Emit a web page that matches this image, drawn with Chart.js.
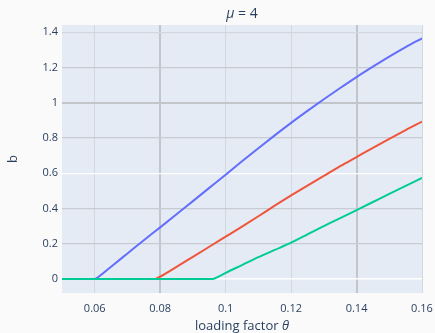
<!DOCTYPE html>
<html>
<head>
<meta charset="utf-8">
<script src="https://cdn.jsdelivr.net/npm/chart.js@4/dist/chart.umd.min.js"></script>
<style>
  html, body { margin: 0; padding: 0; background: #fafafa; }
  #wrap { width: 435px; height: 333px; }
</style>
</head>
<body>
<div id="wrap"><canvas id="c" width="435" height="333"></canvas></div>
<script>
// loading factor θ and the resulting b for three series
const thetaBlue = [0.05, 0.06, 0.0605, 0.065, 0.07, 0.075, 0.08, 0.085, 0.09, 0.095, 0.10, 0.105, 0.11, 0.115, 0.12, 0.125, 0.13, 0.135, 0.14, 0.145, 0.15, 0.155, 0.16];
const bBlue     = [0, 0, 0.004, 0.07, 0.145, 0.22, 0.293, 0.367, 0.442, 0.517, 0.592, 0.668, 0.742, 0.815, 0.886, 0.954, 1.020, 1.084, 1.146, 1.205, 1.262, 1.316, 1.366];

const thetaRed  = [0.05, 0.0785, 0.0789, 0.08, 0.085, 0.09, 0.095, 0.10, 0.105, 0.11, 0.115, 0.12, 0.125, 0.13, 0.135, 0.14, 0.145, 0.15, 0.155, 0.16];
const bRed      = [0, 0, 0.003, 0.013, 0.069, 0.126, 0.183, 0.240, 0.297, 0.356, 0.416, 0.474, 0.53, 0.585, 0.64, 0.692, 0.744, 0.795, 0.845, 0.893];

const thetaGreen = [0.05, 0.0962, 0.0966, 0.098, 0.10, 0.105, 0.11, 0.115, 0.12, 0.125, 0.13, 0.135, 0.14, 0.145, 0.15, 0.155, 0.16];
const bGreen     = [0, 0, 0.003, 0.015, 0.035, 0.079, 0.124, 0.165, 0.206, 0.253, 0.3, 0.345, 0.391, 0.437, 0.483, 0.528, 0.574];

const xTicks = [0.06, 0.08, 0.1, 0.12, 0.14, 0.16];
const xTickLabels = ["0.06", "0.08", "0.1", "0.12", "0.14", "0.16"];
const yTicks = [0, 0.2, 0.4, 0.6, 0.8, 1, 1.2, 1.4];
const yTickLabels = ["0", "0.2", "0.4", "0.6", "0.8", "1", "1.2", "1.4"];

const TEXT = '#2a3f5f';
const FONT = '"Open Sans", "Noto Sans", sans-serif';

function pts(xs, ys) { return xs.map((x, i) => ({ x: x, y: ys[i] })); }
function near(a, b) { return Math.abs(a - b) < 1e-6; }

// grid line shades per tick
function xGridColor(ctx) {
  const v = ctx.tick ? ctx.tick.value : null;
  if (v !== null && (near(v, 0.08) || near(v, 0.14))) return '#c2c6cb';
  return '#d3d8df';
}
function xGridWidth(ctx) {
  const v = ctx.tick ? ctx.tick.value : null;
  return (v !== null && (near(v, 0.08) || near(v, 0.14))) ? 2 : 1;
}
function yGridColor(ctx) {
  const v = ctx.tick ? ctx.tick.value : null;
  if (v === null) return '#c8ccd2';
  if (near(v, 0) || near(v, 0.6)) return '#ffffff';
  if (near(v, 1)) return '#c2c6cb';
  if (near(v, 1.4)) return '#d3d8df';
  return '#c8ccd2';
}
function yGridWidth(ctx) {
  const v = ctx.tick ? ctx.tick.value : null;
  if (v !== null && near(v, 1)) return 2;
  if (v !== null && near(v, 0)) return 1.5;
  return 1.3;
}

const backdrop = {
  id: 'backdrop',
  beforeDraw(chart) {
    const { ctx, chartArea: a } = chart;
    ctx.save();
    ctx.fillStyle = '#fafafa';
    ctx.fillRect(0, 0, chart.width, chart.height);
    ctx.fillStyle = '#e5ebf5';
    ctx.fillRect(a.left, a.top, a.right - a.left, a.bottom - a.top);
    ctx.restore();
  }
};

// Title and axis titles with italic Greek symbols
const labels = {
  id: 'labels',
  afterDraw(chart) {
    const { ctx, chartArea: a } = chart;
    ctx.save();
    ctx.fillStyle = TEXT;
    ctx.textBaseline = 'middle';

    function mixed(parts, cx, cy) {
      let w = 0;
      parts.forEach(p => { ctx.font = p.font; w += ctx.measureText(p.t).width; });
      let x = cx - w / 2;
      ctx.textAlign = 'left';
      parts.forEach(p => { ctx.font = p.font; ctx.fillText(p.t, x, cy); x += ctx.measureText(p.t).width; });
    }
    const cx = (a.left + a.right) / 2;
    mixed([
      { t: 'μ', font: 'italic 14px ' + FONT },
      { t: ' = 4', font: '14px ' + FONT }
    ], cx, 14);

    mixed([
      { t: 'loading factor ', font: '13px ' + FONT },
      { t: 'θ', font: 'italic 13px ' + FONT }
    ], cx, 326);

    ctx.translate(13, (a.top + a.bottom) / 2);
    ctx.rotate(-Math.PI / 2);
    ctx.textAlign = 'center';
    ctx.font = '13px ' + FONT;
    ctx.fillText('b', 0, 0);
    ctx.restore();
  }
};

new Chart(document.getElementById('c'), {
  type: 'line',
  data: {
    datasets: [
      { data: pts(thetaBlue, bBlue), borderColor: '#636efa', order: 2 },
      { data: pts(thetaRed, bRed), borderColor: '#ef553b', order: 1 },
      { data: pts(thetaGreen, bGreen), borderColor: '#00cc96', order: 0 }
    ]
  },
  options: {
    responsive: false,
    animation: false,
    layout: { padding: { top: 25, right: 13, left: 0, bottom: 0 } },
    elements: {
      line: { borderWidth: 2, tension: 0, cubicInterpolationMode: 'monotone', fill: false },
      point: { radius: 0, hoverRadius: 0 }
    },
    plugins: {
      legend: { display: false },
      title: { display: false },
      tooltip: { enabled: false }
    },
    scales: {
      x: {
        type: 'linear',
        min: 0.05,
        max: 0.16,
        afterBuildTicks: s => { s.ticks = xTicks.map(v => ({ value: v })); },
        afterFit: s => { s.height = 40; s.paddingLeft = 0; s.paddingRight = 0; },
        ticks: {
          color: TEXT,
          font: { family: FONT, size: 11 },
          padding: 9,
          maxRotation: 0,
          callback: (v) => { const i = xTicks.findIndex(t => near(t, v)); return i >= 0 ? xTickLabels[i] : ''; }
        },
        grid: { color: xGridColor, lineWidth: xGridWidth, drawTicks: false },
        border: { display: false }
      },
      y: {
        type: 'linear',
        min: -0.0795,
        max: 1.4414,
        afterBuildTicks: s => { s.ticks = yTicks.map(v => ({ value: v })); },
        afterFit: s => { s.width = 62; s.paddingTop = 0; s.paddingBottom = 0; },
        ticks: {
          color: TEXT,
          font: { family: FONT, size: 11 },
          padding: 4,
          callback: (v) => { const i = yTicks.findIndex(t => near(t, v)); return i >= 0 ? yTickLabels[i] : ''; }
        },
        grid: { color: yGridColor, lineWidth: yGridWidth, drawTicks: false },
        border: { display: false }
      }
    }
  },
  plugins: [backdrop, labels]
});
</script>
</body>
</html>
